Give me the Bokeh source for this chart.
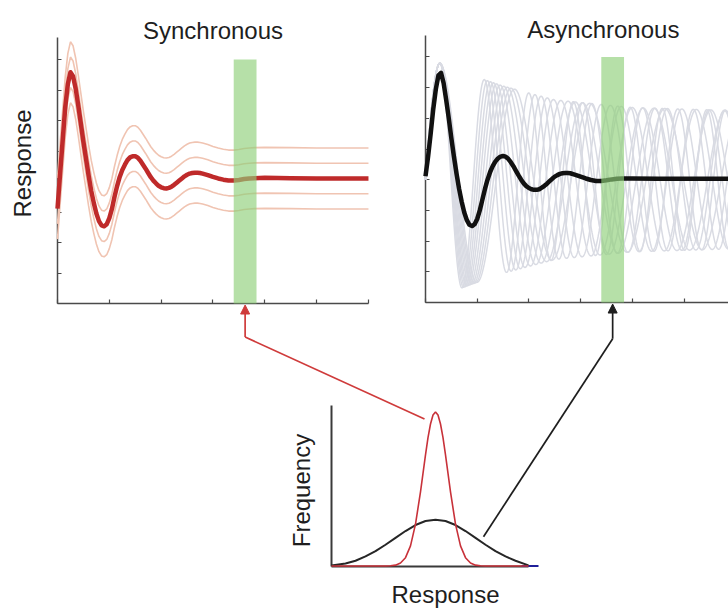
import numpy as np
from bokeh.plotting import figure
from bokeh.models import Range1d, LinearAxis, FixedTicker, Label, Arrow, NormalHead
from bokeh.embed import file_html
from bokeh.resources import INLINE

# ---------------- data ----------------
# time axis (arbitrary units, x ticks at 0..6)
t_grid = [0.00, 0.05, 0.10, 0.15, 0.20, 0.25, 0.30, 0.35, 0.40, 0.45, 0.50, 0.55,
          0.60, 0.65, 0.70, 0.75, 0.80, 0.85, 0.90, 0.95, 1.00, 1.05, 1.10, 1.15,
          1.20, 1.25, 1.30, 1.35, 1.40, 1.45, 1.50, 1.55, 1.60, 1.65, 1.70, 1.75,
          1.80, 1.85, 1.90, 1.95, 2.00, 2.05, 2.10, 2.15, 2.20, 2.25, 2.30, 2.35,
          2.40, 2.45, 2.50, 2.55, 2.60, 2.65, 2.70, 2.75, 2.80, 2.90, 3.00, 3.10,
          3.20, 3.30, 3.40, 3.50, 3.60, 3.70, 3.80, 4.00, 4.50, 5.00, 5.50, 6.00]

# synchronous: mean response (thick red)
sync_mean = [3.11, 4.25, 5.35, 6.45, 7.20, 7.58, 7.45, 7.05, 6.50, 5.90, 5.30, 4.75,
             4.20, 3.70, 3.30, 2.95, 2.70, 2.56, 2.53, 2.60, 2.80, 3.10, 3.50, 3.85,
             4.15, 4.38, 4.55, 4.70, 4.79, 4.83, 4.83, 4.78, 4.68, 4.55, 4.42, 4.28,
             4.14, 4.03, 3.94, 3.86, 3.81, 3.78, 3.77, 3.79, 3.83, 3.89, 3.96, 4.03,
             4.10, 4.17, 4.22, 4.26, 4.28, 4.29, 4.29, 4.28, 4.26, 4.21, 4.15, 4.10,
             4.06, 4.03, 4.03, 4.05, 4.08, 4.10, 4.11, 4.12, 4.11, 4.10, 4.10, 4.10]
# single trials in the synchronous case are the mean shifted up / down
sync_offsets = [1.0, 0.5, -0.5, -1.0]

# asynchronous: mean response (thick black)
async_mean = [4.11, 4.75, 5.50, 6.30, 6.95, 7.40, 7.48, 7.15, 6.60, 6.00, 5.35, 4.75,
              4.20, 3.70, 3.28, 2.93, 2.68, 2.53, 2.49, 2.55, 2.72, 3.00, 3.35, 3.70,
              4.00, 4.25, 4.44, 4.59, 4.69, 4.75, 4.77, 4.75, 4.68, 4.57, 4.44, 4.29,
              4.14, 4.00, 3.88, 3.79, 3.73, 3.69, 3.67, 3.67, 3.69, 3.74, 3.80, 3.87,
              3.95, 4.03, 4.10, 4.15, 4.19, 4.21, 4.22, 4.22, 4.21, 4.16, 4.10, 4.04,
              3.99, 3.96, 3.96, 3.98, 4.01, 4.03, 4.04, 4.04, 4.03, 4.03, 4.03, 4.03]

# asynchronous single trials (grey): common first peak, then sustained
# oscillations whose periods differ from trial to trial
gray_periods = [0.86, 0.92, 0.98, 1.04, 1.10, 1.17, 1.24, 1.31, 1.38, 1.45]
gray_env_t = [0.0, 0.28, 0.9, 1.5, 2.5, 4.0, 6.0]
gray_env_a = [3.8, 3.8, 3.4, 3.05, 2.6, 2.35, 2.25]
gray_center = 4.0
gray_peak_t = 0.28

# analysis window (green band)
window = [3.40, 3.84]
window_top = 8.0

x_ticks = [0, 1, 2, 3, 4, 5, 6]
y_ticks = [0, 1, 2, 3, 4, 5, 6, 7, 8]

# distribution of responses in the window
red_x = [0.0, 5.4, 5.9, 6.4, 6.9, 7.4, 7.9, 8.4, 8.9, 9.15, 9.4, 9.65, 9.9, 10.15,
         10.4, 10.65, 10.9, 11.15, 11.4, 11.65, 11.9, 12.4, 12.9, 13.4, 13.9, 14.4,
         14.9, 15.4, 19.7]
red_y = [0, 0, 0.0014, 0.0055, 0.019, 0.054, 0.131, 0.272, 0.481, 0.602, 0.722,
         0.833, 0.922, 0.980, 1.0, 0.980, 0.922, 0.833, 0.722, 0.602, 0.481, 0.272,
         0.131, 0.054, 0.019, 0.0055, 0.0014, 0, 0]
black_x = [0.0, 1.4, 2.4, 3.4, 4.4, 5.4, 6.4, 7.4, 8.4, 9.4, 10.4, 11.4, 12.4, 13.4,
           14.4, 15.4, 16.4, 17.4, 18.4, 19.7]
black_y = [0.003, 0.016, 0.034, 0.062, 0.097, 0.138, 0.183, 0.227, 0.266, 0.292,
           0.301, 0.292, 0.266, 0.227, 0.183, 0.138, 0.097, 0.062, 0.034, 0.004]
blue_x = [19.0, 20.7]
blue_y = [0, 0]

titles = ["Synchronous", "Asynchronous"]
ylabel_top = "Response"
xlabel_dist = "Response"
ylabel_dist = "Frequency"

# ---------------- layout ----------------
OFF = 0
W, H = 728, 610
FONT = "Liberation Sans"

# each panel: pixel position of its data origin and pixels per data unit
panels = {
    "sync": dict(x0=57, y0=303, sx=51.83, sy=30.5),
    "async": dict(x0=425, y0=302, sx=51.7, sy=30.7),
    "dist": dict(x0=331, y0=565.5, sx=10.0, sy=154.0),
}

xr, yr = {}, {}
for name, d in panels.items():
    xr[name] = Range1d(-(d["x0"] - OFF) / d["sx"], (W - (d["x0"] - OFF)) / d["sx"])
    yr[name] = Range1d((d["y0"] - (H + OFF)) / d["sy"], (d["y0"] - OFF) / d["sy"])


def to_canvas(name, x, y):
    d = panels[name]
    return d["x0"] - OFF + x * d["sx"], H - d["y0"] + OFF + y * d["sy"]


p = figure(width=W, height=H, x_range=Range1d(0, W), y_range=Range1d(0, H),
           x_axis_type=None, y_axis_type=None, toolbar_location=None,
           output_backend="svg", min_border=0, outline_line_color=None,
           background_fill_color="white", border_fill_color="white")
p.extra_x_ranges = xr
p.extra_y_ranges = yr

AX = "#4a4a4a"


def axes(name, xb, yb, xt, yt, color, width, tick):
    ax = LinearAxis(x_range_name=name, y_range_name=name, fixed_location=0, bounds=xb,
                    ticker=FixedTicker(ticks=xt), major_tick_in=tick, major_tick_out=0,
                    minor_tick_line_color=None, major_label_text_color=None,
                    axis_line_color=color, axis_line_width=width,
                    major_tick_line_color=color if xt else None, major_tick_line_width=1.2,
                    level="underlay")
    p.add_layout(ax, "below")
    ay = LinearAxis(x_range_name=name, y_range_name=name, fixed_location=0, bounds=yb,
                    ticker=FixedTicker(ticks=yt), major_tick_in=tick, major_tick_out=0,
                    minor_tick_line_color=None, major_label_text_color=None,
                    axis_line_color=color, axis_line_width=width,
                    major_tick_line_color=color if yt else None, major_tick_line_width=1.2,
                    level="underlay")
    p.add_layout(ay, "left")


axes("sync", (0, 6), (0, 8.72), x_ticks, y_ticks, AX, 1.5, 4)
axes("async", (0, 6), (0, 8.7), x_ticks, y_ticks, AX, 1.5, 4)
axes("dist", (0, 19.7), (0, 1.04), [], [], "#3a3a3a", 2, 0)

# ---- synchronous panel
s = dict(x_range_name="sync", y_range_name="sync")
tg = np.array(t_grid)
sm = np.array(sync_mean)
p.multi_line([list(tg) for _ in sync_offsets], [list(sm + o) for o in sync_offsets],
             line_color="#f0c4b2", line_width=1.6, **s)
p.line(t_grid, sync_mean, line_color="#bf2a2a", line_width=4.5, line_join="round", **s)
p.quad(left=[window[0]], right=[window[1]], bottom=[0], top=[window_top],
       fill_color="#8fcf7a", fill_alpha=0.65, line_color=None, **s)

# ---- asynchronous panel
a = dict(x_range_name="async", y_range_name="async")
tt = np.linspace(0, 6, 1201)
env = np.interp(tt, gray_env_t, gray_env_a)
gx, gy = [], []
for P in gray_periods:
    ph = np.where(tt <= gray_peak_t, 0.5 * np.pi * (tt - gray_peak_t) / gray_peak_t,
                  2 * np.pi * (tt - gray_peak_t) / P)
    gx.append(list(tt))
    gy.append(list(gray_center + env * np.cos(ph)))
p.multi_line(gx, gy, line_color="#d9dbe3", line_width=1.5, **a)
p.line(t_grid, async_mean, line_color="#111111", line_width=4.5, line_join="round", **a)
p.quad(left=[window[0]], right=[window[1]], bottom=[0], top=[window_top],
       fill_color="#8fcf7a", fill_alpha=0.65, line_color=None, **a)

# ---- distribution panel
dd = dict(x_range_name="dist", y_range_name="dist")
p.line(blue_x, blue_y, line_color="#1f1f9a", line_width=2, **dd)
p.line(black_x, black_y, line_color="#262626", line_width=2, **dd)
p.line(red_x, red_y, line_color="#c8323a", line_width=1.6, **dd)

# ---- arrows from the distributions to the analysis windows
wc = 0.5 * (window[0] + window[1])
for panel, tip_y, elbow_y, dx, dy, col in [
        ("sync", -0.05, -1.10, 9.3, 0.955, "#cf3b3b"),
        ("async", -0.05, -1.18, 15.2, 0.19, "#1e1e1e")]:
    ex, ey = to_canvas(panel, wc, elbow_y)
    tx, ty = to_canvas(panel, wc, tip_y)
    cx, cy = to_canvas("dist", dx, dy)
    p.line([cx, ex], [cy, ey], line_color=col, line_width=1.7)
    p.add_layout(Arrow(x_start=ex, y_start=ey, x_end=tx, y_end=ty, line_color=col,
                       line_width=1.7,
                       end=NormalHead(size=9, fill_color=col, line_color=col, line_width=1)))

# ---- texts
TXT = "#1e1e1e"
p.add_layout(Label(x=3.0, y=8.95, text=titles[0], text_align="center",
                   text_baseline="middle", text_font=FONT, text_font_size="24px",
                   text_color=TXT, **s))
p.add_layout(Label(x=3.44, y=8.89, text=titles[1], text_align="center",
                   text_baseline="middle", text_font=FONT, text_font_size="24px",
                   text_color=TXT, **a))
p.add_layout(Label(x=-0.675, y=4.59, text=ylabel_top, angle=np.pi / 2,
                   text_align="center", text_baseline="middle", text_font=FONT,
                   text_font_size="24px", text_color=TXT, **s))
p.add_layout(Label(x=-3.0, y=0.49, text=ylabel_dist, angle=np.pi / 2,
                   text_align="center", text_baseline="middle", text_font=FONT,
                   text_font_size="24px", text_color=TXT, **dd))
p.add_layout(Label(x=11.4, y=-0.182, text=xlabel_dist, text_align="center",
                   text_baseline="middle", text_font=FONT, text_font_size="24px",
                   text_color=TXT, **dd))

open("out.html", "w").write(file_html(p, INLINE))
